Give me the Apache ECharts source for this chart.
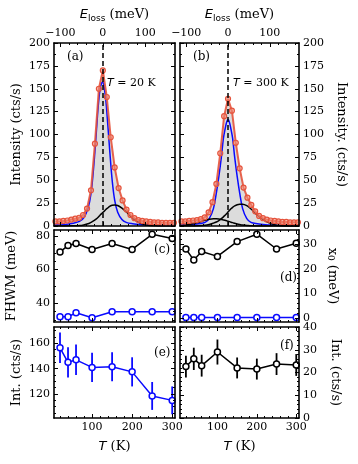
<!DOCTYPE html>
<html>
<head>
<meta charset="utf-8">
<script src="https://cdn.jsdelivr.net/npm/echarts@6/dist/echarts.min.js"></script>
<style>
  html, body { margin: 0; padding: 0; background: #fff; }
  #chart { width: 358px; height: 464px; }
</style>
</head>
<body>
<div id="chart"></div>
<script>
// RIXS spectra (a,b) + fit parameters vs T (c-f)
(function () {
  // ---- data ----
  var E_DATA = [-111.6, -102.3, -93, -83.7, -74.4, -65.1, -55.8, -46.5, -37.2, -27.9, -18.6, -9.3, 0,
    9.3, 18.6, 27.9, 37.2, 46.5, 55.8, 65.1, 74.4, 83.7, 93, 102.3, 111.6, 120.9, 130.2, 139.5, 148.8, 158.1, 167.4];
  var I_20K = [5, 5, 5.5, 6, 7, 8, 9, 12, 19, 39, 90, 150, 170,
    141, 97, 64, 41.5, 28, 18, 12, 8.5, 6.5, 5.5, 5, 4.5, 4, 4, 3.5, 3.5, 3.5, 3.5];
  var I_300K = [5, 5, 5.5, 6, 6.5, 7.5, 9.5, 15, 26, 46, 79.5, 120, 139,
    126, 91, 63, 42, 31, 23, 16, 11, 8.5, 7, 6, 5.5, 5, 4.5, 4.5, 4, 4, 4];

  var E_FIT = [-115, -90, -70, -55, -45, -35, -28, -22, -16, -11, -7, -3, 0,
    3, 7, 11, 16, 22, 28, 35, 45, 55, 70, 90, 110, 130, 150, 170];
  var BLUE_20K = [1, 1.5, 3, 5, 9, 19, 35, 62, 98, 130, 148, 156, 157,
    152, 138, 115, 84, 50, 28, 15, 7, 4, 2.5, 1.5, 1, 0.5, 0.5, 0.5];
  var BLACK_20K = [0, 0, 0.2, 0.5, 1.2, 2.4, 4, 5.5, 7.5, 9.5, 11.5, 13.5, 14.8,
    16, 18, 19.5, 21.5, 22.6, 23, 22.4, 19.5, 15.5, 8.7, 2.6, 0.5, 0.1, 0, 0];
  var BLUE_300K = [1, 1.5, 2.5, 4, 8, 19, 36, 54, 75, 96, 106, 114, 116,
    114, 106, 96, 75, 54, 36, 19, 8, 4, 2.5, 1.5, 1, 0.5, 0.5, 0.5];
  var BLACK_300K = [0, 0, 0.2, 0.7, 1.6, 3.1, 4.4, 5.9, 8, 10, 11.8, 13.7, 15.3,
    16.8, 18.8, 20.4, 21.9, 23.2, 23.8, 23.9, 22.2, 18.6, 12.1, 5.3, 1.5, 0.3, 0, 0];
  var BLACK_300K_AS = [0.3, 1.8, 4.2, 6.2, 7.4, 8, 7.9, 7.6, 7.1, 6.6, 6.2, 5.7, 5.3,
    4.8, 4.2, 3.7, 3, 2.2, 1.6, 1, 0.6, 0.2, 0, 0, 0, 0, 0, 0];

  var T_LIST = [20, 40, 60, 100, 150, 200, 250, 300];
  var FWHM_BLACK = [70.5, 74.3, 75.5, 72, 75.5, 72, 81, 78.5];
  var FWHM_BLUE = [31.8, 31.8, 34.2, 31.2, 34.8, 34.8, 34.8, 34.8];
  var X0_BLACK = [28, 23.5, 27, 25, 31, 34, 28, 30.3];
  var X0_BLUE = [0.2, 0.2, 0.2, 0.2, 0.2, 0.2, 0.2, 0.2];
  var INT_BLUE = [156.5, 145, 147, 141, 141.5, 137.5, 118.5, 115];
  var INT_BLUE_ERR = [12, 12, 12, 11.5, 11.5, 11.5, 11, 11];
  var INT_BLACK = [22.6, 26, 23, 29, 22, 21.5, 23.7, 23.3];
  var INT_BLACK_ERR = [4.8, 4.9, 4.8, 5.5, 4.6, 4.6, 4.8, 4.8];

  // ---- ticks ----
  var E_MAJOR = [-100, 0, 100];
  var E_MINOR = [-80, -60, -40, -20, 20, 40, 60, 80, 120, 140, 160];
  var I_MAJOR = [0, 25, 50, 75, 100, 125, 150, 175, 200];
  var I_MINOR = [12.5, 37.5, 62.5, 87.5, 112.5, 137.5, 162.5, 187.5];
  var T_MAJOR = [100, 200, 300];
  var T_MINOR = [20, 40, 60, 80, 120, 140, 160, 180, 220, 240, 260, 280];
  var FW_MAJOR = [40, 60, 80];
  var FW_MINOR = [30, 35, 45, 50, 55, 65, 70, 75];
  var X0_MAJOR = [0, 10, 20, 30];
  var X0_MINOR = [2, 4, 6, 8, 12, 14, 16, 18, 22, 24, 26, 28, 32, 34];
  var IE_MAJOR = [120, 140, 160];
  var IE_MINOR = [105, 110, 115, 125, 130, 135, 145, 150, 155, 165, 170];
  var IF_MAJOR = [0, 10, 20, 30, 40];
  var IF_MINOR = [2, 4, 6, 8, 12, 14, 16, 18, 22, 24, 26, 28, 32, 34, 36, 38];

  var E_RANGE = [-115, 170], I_RANGE = [0, 200], T_RANGE = [5, 307];
  var FW_RANGE = [28.7, 83.6], X0_RANGE = [-1.6, 35.7], IE_RANGE = [101.1, 172.9], IF_RANGE = [0, 40];

  var SERIF = 'DejaVu Serif';
  var RICH = {
    i: { fontFamily: 'DejaVu Sans', fontStyle: 'italic', fontSize: 13, color: '#000', lineHeight: 17 },
    s: { fontFamily: 'DejaVu Sans', fontSize: 9, color: '#000', verticalAlign: 'bottom', lineHeight: 13 },
    z: { fontFamily: SERIF, fontSize: 9, color: '#000', verticalAlign: 'bottom', lineHeight: 13 }
  };

  var PANELS = [
    { left: 54, top: 43, width: 121, height: 183 },
    { left: 180, top: 43, width: 119, height: 183 },
    { left: 54, top: 230, width: 121, height: 92 },
    { left: 180, top: 230, width: 119, height: 92 },
    { left: 54, top: 327, width: 121, height: 91 },
    { left: 180, top: 327, width: 119, height: 91 }
  ];

  // per panel: x axis, y axis, which side carries labels, titles
  var SPECS = [
    { x: E_RANGE, xMaj: E_MAJOR, xMin: E_MINOR, xLab: 'top', xName: { text: '{i|E}{s|loss} (meV)', gap: 20 },
      y: I_RANGE, yMaj: I_MAJOR, yMin: I_MINOR, yLab: 'left', yName: { text: 'Intensity (cts/s)', gap: 31 } },
    { x: E_RANGE, xMaj: E_MAJOR, xMin: E_MINOR, xLab: 'top', xName: { text: '{i|E}{s|loss} (meV)', gap: 20 },
      y: I_RANGE, yMaj: I_MAJOR, yMin: I_MINOR, yLab: 'right', yName: { text: 'Intensity. (cts/s)', gap: 36 } },
    { x: T_RANGE, xMaj: T_MAJOR, xMin: T_MINOR, xLab: null,
      y: FW_RANGE, yMaj: FW_MAJOR, yMin: FW_MINOR, yLab: 'left', yName: { text: 'FHWM (meV)', gap: 36 } },
    { x: T_RANGE, xMaj: T_MAJOR, xMin: T_MINOR, xLab: null,
      y: X0_RANGE, yMaj: X0_MAJOR, yMin: X0_MINOR, yLab: 'right', yName: { text: 'x{z|0} (meV)', gap: 27 } },
    { x: T_RANGE, xMaj: T_MAJOR, xMin: T_MINOR, xLab: 'bottom', xName: { text: '{i|T} (K)', gap: 20 },
      y: IE_RANGE, yMaj: IE_MAJOR, yMin: IE_MINOR, yLab: 'left', yName: { text: 'Int. (cts/s)', gap: 31 } },
    { x: T_RANGE, xMaj: T_MAJOR, xMin: T_MINOR, xLab: 'bottom', xName: { text: '{i|T} (K)', gap: 20 },
      y: IF_RANGE, yMaj: IF_MAJOR, yMin: IF_MINOR, yLab: 'right', yName: { text: 'Int. (cts/s)', gap: 30 } }
  ];

  function fmtNum(v) { return v < 0 ? '\u2212' + (-v) : String(v); }

  function axis(grid, pos, range, ticks, len, line, labels, name) {
    var a = {
      type: 'value', gridIndex: grid, position: pos, min: range[0], max: range[1], z: 10,
      axisLine: { show: line, onZero: false, lineStyle: { color: '#000', width: 1.6 } },
      axisTick: { show: true, inside: true, length: len, customValues: ticks, lineStyle: { color: '#000', width: 1 } },
      axisLabel: { show: false },
      splitLine: { show: false }
    };
    if (labels) {
      a.axisLabel = { show: true, customValues: labels, margin: 4, color: '#000', fontFamily: SERIF, fontSize: 11, formatter: fmtNum };
    }
    if (name) {
      a.name = name.text;
      a.nameLocation = 'middle';
      a.nameGap = name.gap;
      a.nameRotate = pos === 'left' ? 90 : pos === 'right' ? -90 : 0;
      a.nameTextStyle = { color: '#000', fontFamily: SERIF, fontSize: 13, rich: RICH };
    }
    return a;
  }

  var grids = [], xAxes = [], yAxes = [];
  PANELS.forEach(function (r) { grids.push({ left: r.left, top: r.top, width: r.width, height: r.height }); });
  PANELS.forEach(function (r) { grids.push({ left: r.left, top: r.top, width: r.width, height: r.height }); });

  // main grids: major ticks, frame, labels
  SPECS.forEach(function (s, p) {
    xAxes.push(axis(p, 'bottom', s.x, s.xMaj, 4, true, s.xLab === 'bottom' ? s.xMaj : null, s.xLab === 'bottom' ? s.xName : null));
    xAxes.push(axis(p, 'top', s.x, s.xMaj, 4, true, s.xLab === 'top' ? s.xMaj : null, s.xLab === 'top' ? s.xName : null));
    yAxes.push(axis(p, 'left', s.y, s.yMaj, 4, true, s.yLab === 'left' ? s.yMaj : null, s.yLab === 'left' ? s.yName : null));
    yAxes.push(axis(p, 'right', s.y, s.yMaj, 4, true, s.yLab === 'right' ? s.yMaj : null, s.yLab === 'right' ? s.yName : null));
  });
  // overlay grids: minor ticks only
  SPECS.forEach(function (s, p) {
    xAxes.push(axis(6 + p, 'bottom', s.x, s.xMin, 2, false));
    xAxes.push(axis(6 + p, 'top', s.x, s.xMin, 2, false));
    yAxes.push(axis(6 + p, 'left', s.y, s.yMin, 2, false));
    yAxes.push(axis(6 + p, 'right', s.y, s.yMin, 2, false));
  });

  function zip(xs, ys) { return xs.map(function (x, i) { return [x, ys[i]]; }); }

  var RED = '#e5533c', BLUE = '#0a0aff';
  var series = [];

  function spectrum(p, data, blue, blacks) {
    series.push({
      type: 'line', xAxisIndex: 2 * p, yAxisIndex: 2 * p, data: zip(E_DATA, data), symbol: 'none',
      lineStyle: { width: 0 }, areaStyle: { color: '#dcdcdc', opacity: 1 }, z: 1, silent: true
    });
    series.push({
      type: 'line', xAxisIndex: 2 * p, yAxisIndex: 2 * p, data: zip(E_FIT, blue), symbol: 'none', smooth: 0.35,
      lineStyle: { color: BLUE, width: 1.5 }, z: 2, silent: true
    });
    blacks.forEach(function (b, k) {
      var s = {
        type: 'line', xAxisIndex: 2 * p, yAxisIndex: 2 * p, data: zip(E_FIT, b), symbol: 'none', smooth: 0.35,
        lineStyle: { color: '#000', width: 1.5 }, z: 2, silent: true
      };
      if (k === 0) {
        s.markLine = {
          silent: true, symbol: 'none', label: { show: false },
          lineStyle: { color: '#000', width: 1.5, type: [5, 3] },
          data: [{ xAxis: 0 }]
        };
      }
      series.push(s);
    });
    series.push({
      type: 'line', xAxisIndex: 2 * p, yAxisIndex: 2 * p, data: zip(E_DATA, data),
      symbol: 'circle', symbolSize: 5,
      itemStyle: { color: 'rgba(240,140,120,0.55)', borderColor: RED, borderWidth: 1.2 },
      lineStyle: { color: RED, width: 2, opacity: 0.9 }, z: 3, silent: true
    });
  }

  spectrum(0, I_20K, BLUE_20K, [BLACK_20K]);
  spectrum(1, I_300K, BLUE_300K, [BLACK_300K, BLACK_300K_AS]);

  function markers(p, yIdx, vals, color) {
    series.push({
      type: 'line', xAxisIndex: 2 * p, yAxisIndex: yIdx, data: zip(T_LIST, vals),
      symbol: 'circle', symbolSize: 6,
      itemStyle: { color: '#fff', borderColor: color, borderWidth: 1.5 },
      lineStyle: { color: color, width: 1.5 }, z: 3, silent: true
    });
  }

  function errorBars(p, yIdx, vals, errs, color) {
    series.push({
      type: 'custom', xAxisIndex: 2 * p, yAxisIndex: yIdx, z: 2, silent: true,
      data: T_LIST.map(function (t, i) { return [t, vals[i] - errs[i], vals[i] + errs[i]]; }),
      encode: { x: 0, y: [1, 2] },
      renderItem: function (params, api) {
        var a = api.coord([api.value(0), api.value(1)]);
        var b = api.coord([api.value(0), api.value(2)]);
        return { type: 'line', shape: { x1: a[0], y1: a[1], x2: b[0], y2: b[1] }, style: { stroke: color, lineWidth: 1.8 } };
      }
    });
  }

  markers(2, 4, FWHM_BLACK, '#000');
  markers(2, 4, FWHM_BLUE, BLUE);
  markers(3, 7, X0_BLACK, '#000');
  markers(3, 7, X0_BLUE, BLUE);
  errorBars(4, 8, INT_BLUE, INT_BLUE_ERR, BLUE);
  markers(4, 8, INT_BLUE, BLUE);
  errorBars(5, 11, INT_BLACK, INT_BLACK_ERR, '#000');
  markers(5, 11, INT_BLACK, '#000');

  function label(x, y, text, size) {
    return {
      type: 'text', x: x, y: y, z: 20, silent: true,
      style: {
        text: text, fill: '#000', fontFamily: SERIF, fontSize: size || 12, verticalAlign: 'middle',
        rich: { i: { fontFamily: 'DejaVu Sans', fontStyle: 'italic', fontSize: size || 12, fill: '#000' } }
      }
    };
  }

  var myChart = echarts.init(document.getElementById('chart'), null, { renderer: 'canvas' });
  myChart.setOption({
    backgroundColor: '#fff',
    animation: false,
    grid: grids,
    xAxis: xAxes,
    yAxis: yAxes,
    series: series,
    graphic: [
      label(67, 57, '(a)'),
      label(193, 57, '(b)'),
      label(154, 250, '(c)'),
      label(280, 278, '(d)'),
      label(154, 353, '(e)'),
      label(280, 346, '(f)'),
      label(107, 83, '{i|T} = 20 K', 11),
      label(233, 83, '{i|T} = 300 K', 11)
    ]
  });
})();
</script>
</body>
</html>
